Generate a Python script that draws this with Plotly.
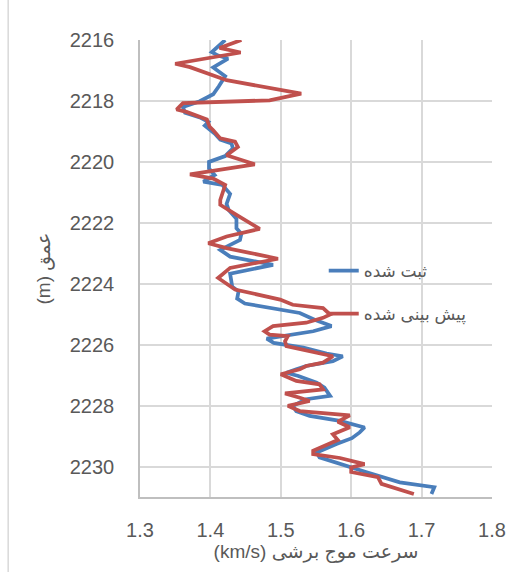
import plotly.graph_objects as go

# Recorded shear-wave velocity log (km/s) against depth (m)
depth_recorded = [
    2216.00, 2216.40, 2216.51, 2216.61, 2216.90, 2217.08, 2217.19, 2217.52, 2217.78, 2218.01,
    2218.20, 2218.39, 2218.54, 2218.69, 2218.81, 2219.07, 2219.27, 2219.40, 2219.56, 2219.81,
    2220.00, 2220.22, 2220.43, 2220.65, 2220.76, 2221.05, 2221.38, 2221.58, 2221.87, 2222.18,
    2222.36, 2222.56, 2222.89, 2223.11, 2223.38, 2223.67, 2224.10, 2224.25, 2224.49, 2224.65,
    2224.85, 2224.96, 2225.18, 2225.39, 2225.56, 2225.72, 2225.80, 2225.94, 2226.10, 2226.29,
    2226.38, 2226.54, 2226.70, 2226.81, 2226.92, 2227.03, 2227.25, 2227.41, 2227.68, 2227.79,
    2228.01, 2228.18, 2228.34, 2228.50, 2228.72, 2228.88, 2229.07, 2229.26, 2229.54, 2229.70,
    2230.03, 2230.19, 2230.52, 2230.68, 2230.90,
]
vs_recorded = [
    1.421, 1.402, 1.411, 1.425, 1.404, 1.414, 1.421, 1.412, 1.404, 1.385,
    1.361, 1.364, 1.385, 1.397, 1.392, 1.406, 1.414, 1.430, 1.432, 1.421,
    1.398, 1.398, 1.406, 1.390, 1.417, 1.428, 1.423, 1.426, 1.437, 1.437,
    1.444, 1.442, 1.414, 1.428, 1.489, 1.428, 1.431, 1.440, 1.438, 1.449,
    1.499, 1.527, 1.548, 1.572, 1.546, 1.499, 1.480, 1.490, 1.532, 1.565,
    1.588, 1.574, 1.536, 1.522, 1.508, 1.525, 1.551, 1.562, 1.570, 1.536,
    1.517, 1.522, 1.541, 1.584, 1.619, 1.612, 1.601, 1.579, 1.551, 1.555,
    1.598, 1.622, 1.669, 1.718, 1.714,
]

# Predicted shear-wave velocity (km/s) against depth (m)
depth_predicted = [
    2216.00, 2216.26, 2216.41, 2216.78, 2216.89, 2217.32, 2217.76, 2217.98, 2218.07, 2218.28,
    2218.36, 2218.47, 2218.61, 2218.85, 2218.96, 2219.23, 2219.34, 2219.51, 2219.78, 2220.08,
    2220.41, 2220.55, 2220.76, 2221.25, 2221.41, 2221.74, 2222.20, 2222.45, 2222.67, 2222.83,
    2223.18, 2223.48, 2223.81, 2224.19, 2224.52, 2224.69, 2224.80, 2225.01, 2225.12, 2225.28,
    2225.39, 2225.56, 2225.67, 2225.72, 2225.89, 2226.05, 2226.27, 2226.38, 2226.59, 2226.70,
    2226.81, 2226.97, 2227.19, 2227.30, 2227.47, 2227.60, 2227.74, 2227.85, 2228.01, 2228.18,
    2228.32, 2228.53, 2228.71, 2228.94, 2229.13, 2229.48, 2229.59, 2229.72, 2229.92, 2230.03,
    2230.18, 2230.35, 2230.57, 2230.90,
]
vs_predicted = [
    1.444, 1.413, 1.443, 1.350, 1.371, 1.423, 1.529, 1.484, 1.361, 1.352,
    1.366, 1.380, 1.395, 1.399, 1.404, 1.414, 1.435, 1.439, 1.423, 1.463,
    1.371, 1.404, 1.421, 1.414, 1.414, 1.437, 1.470, 1.423, 1.397, 1.423,
    1.496, 1.428, 1.411, 1.435, 1.499, 1.517, 1.560, 1.570, 1.560, 1.536,
    1.489, 1.477, 1.484, 1.510, 1.506, 1.508, 1.551, 1.574, 1.560, 1.536,
    1.527, 1.500, 1.522, 1.555, 1.560, 1.506, 1.527, 1.541, 1.510, 1.527,
    1.598, 1.581, 1.598, 1.574, 1.581, 1.546, 1.546, 1.584, 1.619, 1.600,
    1.600, 1.638, 1.643, 1.689,
]

x_ticks = [1.3, 1.4, 1.5, 1.6, 1.7, 1.8]
y_ticks = [2216, 2218, 2220, 2222, 2224, 2226, 2228, 2230]

name_recorded = "ثبت شده"
name_predicted = "پیش بینی شده"
x_title = "(km/s) سرعت موج برشی"
y_title = "(m) عمق"

BLUE = "#4a7ebb"
RED = "#c0504d"
GRID = "#d9d9d9"
TEXT = "#595959"
FONT = "Liberation Sans, DejaVu Sans, sans-serif"

fig = go.Figure()
fig.add_trace(go.Scatter(
    x=vs_recorded, y=depth_recorded, mode="lines", name=name_recorded,
    line=dict(color=BLUE, width=3.75), legendgroup="a",
))
fig.add_trace(go.Scatter(
    x=vs_predicted, y=depth_predicted, mode="lines", name=name_predicted,
    line=dict(color=RED, width=3.75), legendgroup="b",
))

fig.update_layout(
    width=523, height=572,
    margin=dict(l=140, r=30.5, t=39.5, b=75),
    paper_bgcolor="white", plot_bgcolor="white",
    font=dict(family=FONT, color=TEXT, size=20),
    showlegend=True,
    legend=dict(
        x=0.522, y=0.534, xanchor="left", yanchor="top",
        bgcolor="rgba(0,0,0,0)", font=dict(size=17, color=TEXT),
        tracegroupgap=18,
    ),
    xaxis=dict(
        range=[1.3, 1.8], tickvals=x_ticks, ticktext=[f"{v:.1f}" for v in x_ticks],
        showgrid=True, gridcolor=GRID, gridwidth=1.5,
        showline=True, linecolor="#bfbfbf", linewidth=1.5, mirror=False,
        zeroline=False, ticks="", ticklabelstandoff=14,
        title=dict(text=x_title, font=dict(size=19, color=TEXT), standoff=4),
    ),
    yaxis=dict(
        range=[2231, 2216], tickvals=y_ticks,
        showgrid=True, gridcolor=GRID, gridwidth=1.5,
        showline=True, linecolor="#bfbfbf", linewidth=1.5,
        zeroline=False, ticks="", ticklabelstandoff=20,
        title=dict(text=y_title, font=dict(size=19, color=TEXT), standoff=14),
    ),
)

# Chart-area frame edge on the left
fig.add_shape(type="line", xref="paper", yref="paper",
              x0=-0.3745, x1=-0.3745, y0=-0.2, y1=1.1,
              line=dict(color=GRID, width=1.5))

fig.write_html("out.html")
